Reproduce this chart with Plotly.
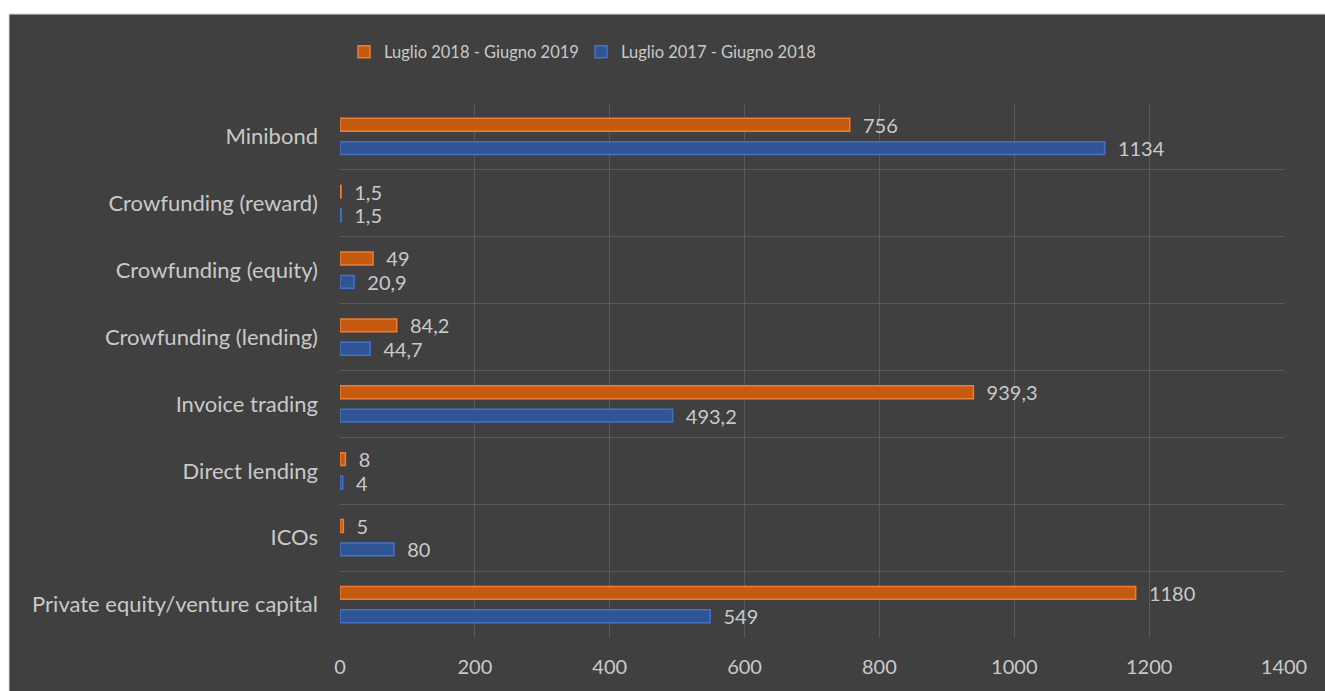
import plotly.graph_objects as go

categories = ["Minibond", "Crowfunding (reward)", "Crowfunding (equity)", "Crowfunding (lending)",
              "Invoice trading", "Direct lending", "ICOs", "Private equity/venture capital"]
series_2018_2019 = [756, 1.5, 49, 84.2, 939.3, 8, 5, 1180]
series_2017_2018 = [1134, 1.5, 20.9, 44.7, 493.2, 4, 80, 549]
name_2018_2019 = "Luglio 2018 - Giugno 2019"
name_2017_2018 = "Luglio 2017 - Giugno 2018"
x_ticks = [0, 200, 400, 600, 800, 1000, 1200, 1400]

def fmt(v):
    return "  " + f"{v:g}".replace(".", ",")

TXT = "#C9C9C9"
FONT = "Lato"

fig = go.Figure()
fig.add_trace(go.Bar(
    y=categories, x=series_2018_2019, orientation="h", name=name_2018_2019,
    marker=dict(color="#C55A11", line=dict(color="#ED7D31", width=1.5)),
    text=[fmt(v) for v in series_2018_2019], textposition="outside", cliponaxis=False,
    constraintext="none",
    textfont=dict(color=TXT, size=20, family=FONT),
))
fig.add_trace(go.Bar(
    y=categories, x=series_2017_2018, orientation="h", name=name_2017_2018,
    marker=dict(color="#2F5597", line=dict(color="#4472C4", width=1.5)),
    text=[fmt(v) for v in series_2017_2018], textposition="outside", cliponaxis=False,
    constraintext="none",
    textfont=dict(color=TXT, size=20, family=FONT),
))

L, R, T, B = 340, 41, 103, 53
W, H = 1325, 691
pw, ph = W - L - R, H - T - B

fig.add_shape(type="rect", xref="paper", yref="paper", layer="below",
              x0=(9 - L) / pw, x1=(W + 5 - L) / pw,
              y0=-(B + 5) / ph, y1=1 + (T - 14) / ph,
              fillcolor="#404040", line=dict(color="#D9D9D9", width=1))

fig.update_layout(
    width=W, height=H,
    margin=dict(l=L, r=R, t=T, b=B, autoexpand=False),
    paper_bgcolor="white", plot_bgcolor="#404040",
    barmode="group", bargap=0.30, bargroupgap=0.45,
    font=dict(family=FONT, color=TXT, size=18),
    showlegend=True,
    legend=dict(orientation="h", x=4 / pw, xanchor="left",
                y=1 + (T - 52) / ph, yanchor="middle",
                font=dict(size=16.5, color=TXT, family=FONT),
                bgcolor="rgba(0,0,0,0)", itemwidth=30, entrywidthmode="pixels", entrywidth=192),
    xaxis=dict(range=[0, 1400], tickvals=x_ticks, showgrid=True, gridcolor="#5A5A5A",
               gridwidth=1, zeroline=False, showline=False, ticks="",
               ticklabelstandoff=15, tickfont=dict(size=20, color=TXT, family=FONT)),
    yaxis=dict(autorange="reversed", type="category", tickson="boundaries",
               showgrid=True, gridcolor="#5A5A5A", gridwidth=1, showline=False,
               ticks="", ticklabelstandoff=21, tickfont=dict(size=22, color=TXT, family=FONT)),
)

fig.write_html("out.html")
